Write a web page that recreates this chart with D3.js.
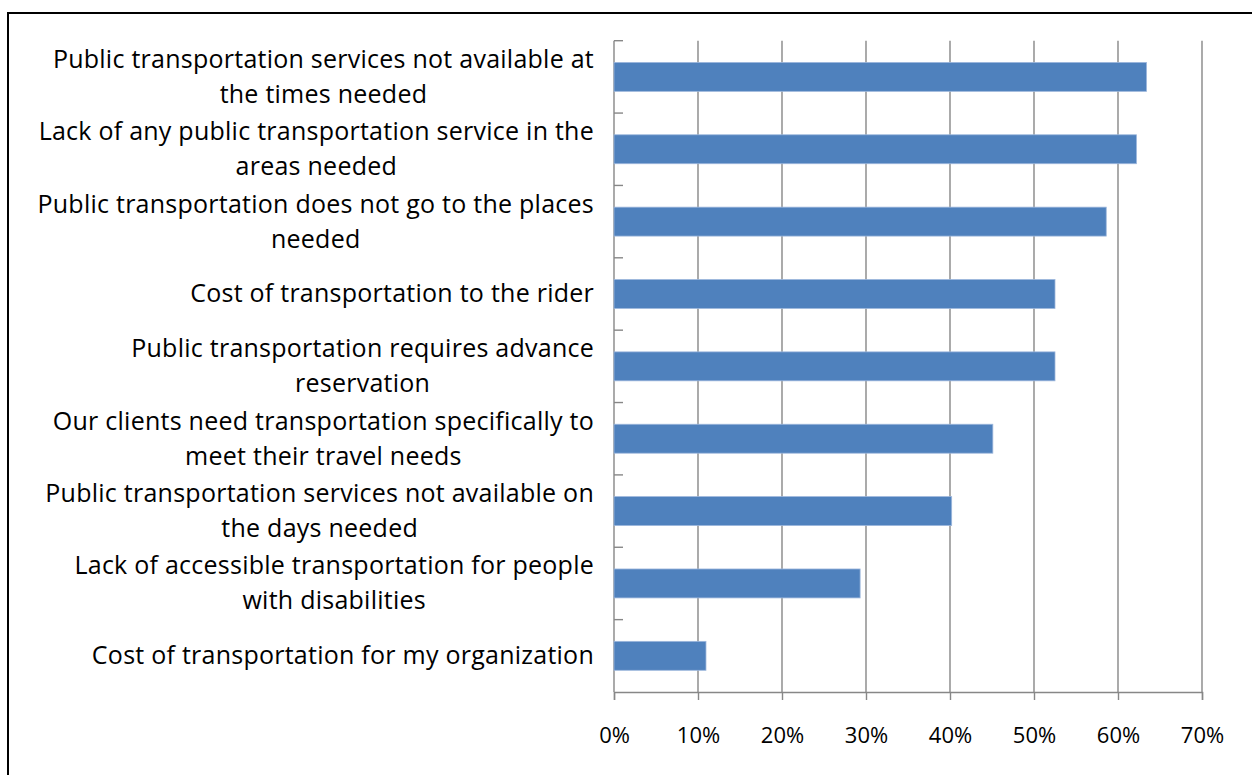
<!DOCTYPE html>
<html>
<head>
<meta charset="utf-8">
<script src="https://cdn.jsdelivr.net/npm/d3@7"></script>
<style>
  html, body { margin: 0; padding: 0; background: #fff; }
  svg { display: block; }
  text { font-family: "Open Sans", "Noto Sans", sans-serif; fill: #000; }
</style>
</head>
<body>
<svg id="chart" width="1252" height="775"></svg>
<script>
const categories = [
  ["Public transportation services not available at", "the times needed"],
  ["Lack of any public transportation service in the", "areas needed"],
  ["Public transportation does not go to the places", "needed"],
  ["Cost of transportation to the rider"],
  ["Public transportation requires advance", "reservation"],
  ["Our clients need transportation specifically to", "meet their travel needs"],
  ["Public transportation services not available on", "the days needed"],
  ["Lack of accessible transportation for people", "with disabilities"],
  ["Cost of transportation for my organization"]
];
const values = [63.4, 62.2, 58.6, 52.5, 52.5, 45.1, 40.2, 29.3, 10.95];
const xTicks = [0, 10, 20, 30, 40, 50, 60, 70];
const xTickLabels = ["0%", "10%", "20%", "30%", "40%", "50%", "60%", "70%"];

const svg = d3.select("#chart");
const W = 1252, H = 775;
const plot = { left: 614, right: 1202, top: 40.7, bottom: 692 };
const labelFont = 25;
const tickFont = 22;
const axisColor = "#878787";

// outer frame (left and top edges visible)
svg.append("path")
  .attr("d", `M8,${H + 5} L8,13 L${W + 5},13`)
  .attr("fill", "none").attr("stroke", "#000").attr("stroke-width", 2);

const x = d3.scaleLinear().domain([0, 70]).range([plot.left, plot.right]);
const y = d3.scaleBand().domain(d3.range(categories.length))
  .range([plot.top, plot.bottom]).paddingInner(0.6).paddingOuter(0.3);
const yBand = d3.scaleBand().domain(d3.range(categories.length))
  .range([plot.top, plot.bottom]);

// vertical gridlines
svg.append("g").selectAll("line").data(xTicks.slice(1)).join("line")
  .attr("x1", d => x(d)).attr("x2", d => x(d))
  .attr("y1", plot.top).attr("y2", plot.bottom)
  .attr("stroke", axisColor).attr("stroke-width", 1.4);

// x axis
const xAxis = d3.axisBottom(x).tickValues(xTicks)
  .tickFormat((d, i) => xTickLabels[i]).tickSize(8);
const gx = svg.append("g").attr("transform", `translate(0,${plot.bottom})`).call(xAxis);
gx.select(".domain").attr("stroke", axisColor).attr("stroke-width", 1.4);
gx.selectAll(".tick line").attr("stroke", axisColor).attr("stroke-width", 1.4);
gx.selectAll(".tick text").attr("font-size", tickFont)
  .attr("font-family", '"Open Sans", sans-serif').attr("fill", "#000")
  .attr("y", 50.7).attr("dy", null);

// y axis (category boundary ticks point right)
const boundaries = d3.range(categories.length + 1).map(i => plot.top + i * yBand.step());
svg.append("line")
  .attr("x1", plot.left).attr("x2", plot.left)
  .attr("y1", plot.top).attr("y2", plot.bottom)
  .attr("stroke", axisColor).attr("stroke-width", 1.4);
svg.append("g").selectAll("line").data(boundaries.slice(0, -1)).join("line")
  .attr("x1", plot.left).attr("x2", plot.left + 9)
  .attr("y1", d => d).attr("y2", d => d)
  .attr("stroke", axisColor).attr("stroke-width", 1.4);

// bars
svg.append("g").selectAll("rect").data(values).join("rect")
  .attr("x", x(0))
  .attr("y", (d, i) => y(i))
  .attr("width", d => x(d) - x(0))
  .attr("height", y.bandwidth())
  .attr("fill", "#4F81BD")
  .attr("stroke", "#9db7dc").attr("stroke-width", 0.8);

// category labels: lines centered within a block right-aligned at labelRight
const labelRight = 594;
const lineGap = 35;
const gl = svg.append("g");
categories.forEach((lines, i) => {
  const cy = yBand(i) + yBand.bandwidth() / 2;
  const g = gl.append("g");
  const texts = lines.map((t, j) => g.append("text")
    .attr("font-size", labelFont)
    .attr("letter-spacing", 0.25)
    .attr("text-anchor", "middle")
    .attr("y", cy + (j - (lines.length - 1) / 2) * lineGap + 8.5)
    .text(t));
  const maxW = d3.max(texts, t => t.node().getComputedTextLength());
  texts.forEach(t => t.attr("x", labelRight - maxW / 2));
});
</script>
</body>
</html>
